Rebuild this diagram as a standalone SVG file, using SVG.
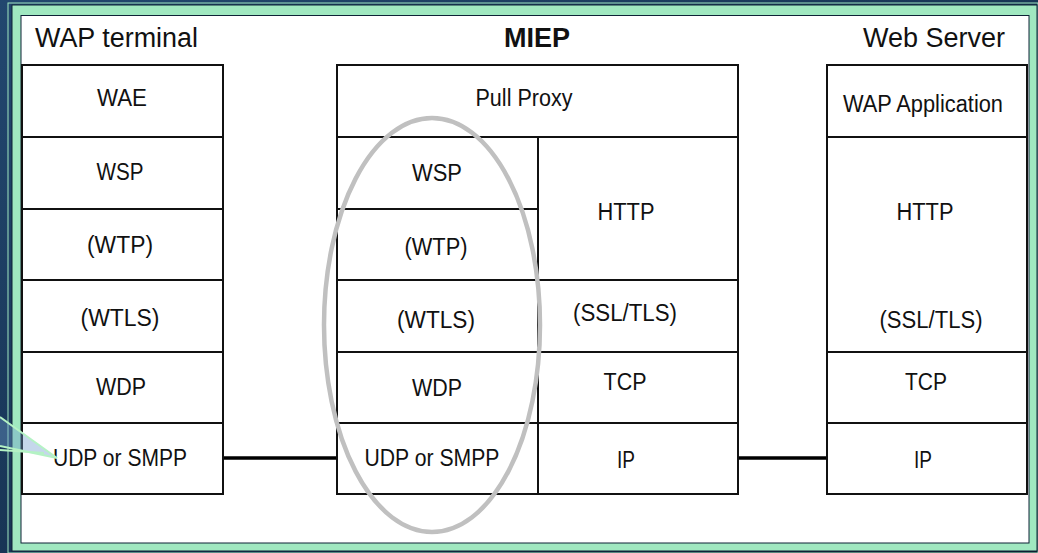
<svg xmlns="http://www.w3.org/2000/svg" width="1038" height="553" viewBox="0 0 1038 553">
<defs>
<linearGradient id="bg" x1="0" y1="0" x2="1" y2="1">
<stop offset="0" stop-color="#22476f"/>
<stop offset="0.6" stop-color="#163150"/>
<stop offset="1" stop-color="#0c1b2e"/>
</linearGradient>
<style>
.box{fill:#fff;stroke:#111;stroke-width:2}
.ln{stroke:#111;stroke-width:2;fill:none}
.lbl{font-family:"Liberation Sans",Arial,sans-serif;font-size:23px;fill:#111;text-anchor:middle;dominant-baseline:central}
.ttl{font-family:"Liberation Sans",Arial,sans-serif;font-size:27px;fill:#111}
.conn{stroke:#000;stroke-width:3.5}
.ptr{stroke:#b4f2c4;stroke-width:2;fill:none}
</style>
</defs>
<rect x="0" y="0" width="1038" height="553" fill="url(#bg)"/>
<rect x="8" y="3" width="1030" height="550" fill="none" stroke="#a0e8c0" stroke-width="1"/>
<rect x="12" y="5" width="1025" height="546" fill="#a0e8c0" stroke="#0e2236" stroke-width="1"/>
<rect x="21" y="15.5" width="1008" height="527.5" fill="#fff" stroke="#0e2236" stroke-width="1"/>

<g id="titles">
<text class="ttl" x="35" y="47" textLength="163" lengthAdjust="spacingAndGlyphs">WAP terminal</text>
<text class="ttl" x="537" y="47" text-anchor="middle" font-weight="bold" font-size="26">MIEP</text>
<text class="ttl" x="1005" y="47" text-anchor="end">Web Server</text>
</g>

<g id="connectors">
<line class="conn" x1="223" y1="458" x2="337" y2="458"/>
<line class="conn" x1="738" y1="458" x2="827" y2="458"/>
</g>

<g id="wap-terminal">
<rect class="box" x="22" y="65" width="201" height="429"/>
<line class="ln" x1="22" y1="137" x2="223" y2="137"/>
<line class="ln" x1="22" y1="209" x2="223" y2="209"/>
<line class="ln" x1="22" y1="280" x2="223" y2="280"/>
<line class="ln" x1="22" y1="352" x2="223" y2="352"/>
<line class="ln" x1="22" y1="423" x2="223" y2="423"/>
<text class="lbl" x="122" y="98" textLength="50" lengthAdjust="spacingAndGlyphs">WAE</text>
<text class="lbl" x="120" y="172" textLength="47" lengthAdjust="spacingAndGlyphs">WSP</text>
<text class="lbl" x="120" y="245" textLength="66" lengthAdjust="spacingAndGlyphs">(WTP)</text>
<text class="lbl" x="120" y="318" textLength="79" lengthAdjust="spacingAndGlyphs">(WTLS)</text>
<text class="lbl" x="121" y="387" textLength="50" lengthAdjust="spacingAndGlyphs">WDP</text>
<text class="lbl" x="120" y="458" textLength="134" lengthAdjust="spacingAndGlyphs">UDP or SMPP</text>
</g>

<g id="miep">
<rect class="box" x="337" y="65" width="401" height="429"/>
<line class="ln" x1="337" y1="137" x2="738" y2="137"/>
<line class="ln" x1="538" y1="137" x2="538" y2="494"/>
<line class="ln" x1="337" y1="209" x2="538" y2="209"/>
<line class="ln" x1="337" y1="280" x2="738" y2="280"/>
<line class="ln" x1="337" y1="352" x2="738" y2="352"/>
<line class="ln" x1="337" y1="423" x2="738" y2="423"/>
<text class="lbl" x="524" y="98" textLength="97" lengthAdjust="spacingAndGlyphs">Pull Proxy</text>
<text class="lbl" x="437" y="173" textLength="50" lengthAdjust="spacingAndGlyphs">WSP</text>
<text class="lbl" x="436" y="247" textLength="63" lengthAdjust="spacingAndGlyphs">(WTP)</text>
<text class="lbl" x="436" y="320" textLength="78" lengthAdjust="spacingAndGlyphs">(WTLS)</text>
<text class="lbl" x="437" y="388" textLength="50" lengthAdjust="spacingAndGlyphs">WDP</text>
<text class="lbl" x="432" y="458" textLength="135" lengthAdjust="spacingAndGlyphs">UDP or SMPP</text>
<text class="lbl" x="626" y="212" textLength="57" lengthAdjust="spacingAndGlyphs">HTTP</text>
<text class="lbl" x="625" y="313" textLength="104" lengthAdjust="spacingAndGlyphs">(SSL/TLS)</text>
<text class="lbl" x="625" y="382" textLength="43" lengthAdjust="spacingAndGlyphs">TCP</text>
<text class="lbl" x="626" y="460" textLength="18" lengthAdjust="spacingAndGlyphs">IP</text>
</g>

<g id="web-server">
<rect class="box" x="827" y="65" width="200" height="429"/>
<line class="ln" x1="827" y1="137" x2="1027" y2="137"/>
<line class="ln" x1="827" y1="352" x2="1027" y2="352"/>
<line class="ln" x1="827" y1="423" x2="1027" y2="423"/>
<text class="lbl" x="923" y="104" textLength="160" lengthAdjust="spacingAndGlyphs">WAP Application</text>
<text class="lbl" x="925" y="212" textLength="57" lengthAdjust="spacingAndGlyphs">HTTP</text>
<text class="lbl" x="931" y="320" textLength="103" lengthAdjust="spacingAndGlyphs">(SSL/TLS)</text>
<text class="lbl" x="926" y="382" textLength="42" lengthAdjust="spacingAndGlyphs">TCP</text>
<text class="lbl" x="923" y="460" textLength="18" lengthAdjust="spacingAndGlyphs">IP</text>
</g>

<g id="highlight">
<ellipse cx="432" cy="325" rx="108" ry="207" fill="none" stroke="#c0c0c0" stroke-width="4.5"/>
</g>

<g id="pointer">
<polygon points="0,417 57,458 0,446" fill="#6f9ccc" fill-opacity="0.4"/>
<polyline class="ptr" points="0,417 57,458 0,446"/>
<line class="ptr" x1="0" y1="450" x2="44" y2="453"/>
</g>
</svg>
